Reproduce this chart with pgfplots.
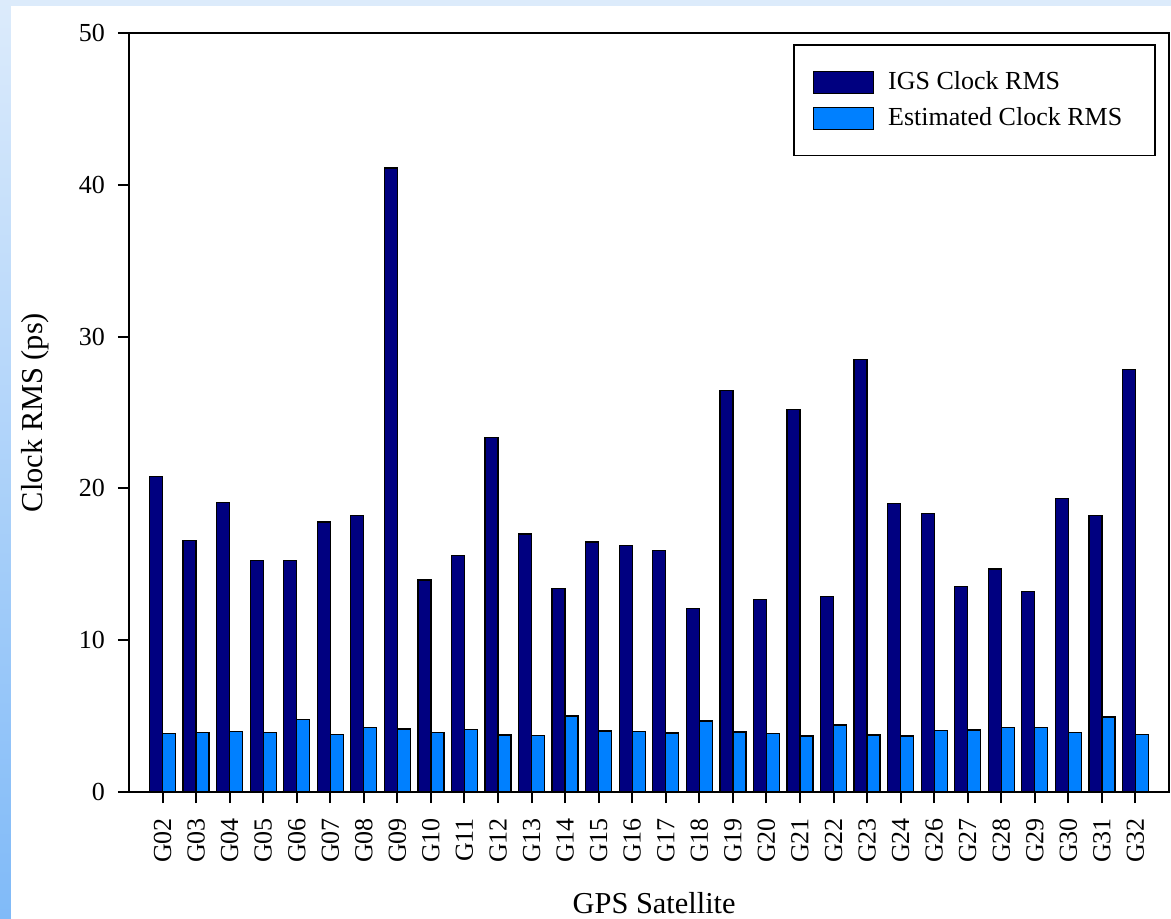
\documentclass[border=0pt]{standalone}
\usepackage{pgfplots}
\pgfplotsset{compat=1.18}
\usepackage{fontspec}
\setmainfont{Liberation Serif}
\definecolor{navybar}{HTML}{000080}
\definecolor{lightbar}{HTML}{0080FF}
\definecolor{bgtop}{HTML}{DCEBFB}
\definecolor{bgbot}{HTML}{80BAF8}
\begin{document}
\fontsize{13}{15}\selectfont
\begin{tikzpicture}
\path[use as bounding box] (-64.5pt,-63pt) rectangle (521pt,396pt);
\fill[white] (-64.5pt,-63pt) rectangle (521pt,396pt);
\fill[bgtop] (-64.5pt,393pt) rectangle (521pt,396pt);
\shade[top color=bgtop, bottom color=bgbot] (-64.5pt,-63pt) rectangle (-59pt,396pt);
\begin{axis}[
  at={(0,0)}, anchor=south west,
  scale only axis, width=520pt, height=379.5pt,
  ybar=0pt, bar width=6.5pt,
  xmin=-1, xmax=30, ymin=0, ymax=50,
  xtick={0,...,29},
  xticklabels={G02,G03,G04,G05,G06,G07,G08,G09,G10,G11,G12,G13,G14,G15,G16,G17,G18,G19,G20,G21,G22,G23,G24,G26,G27,G28,G29,G30,G31,G32},
  ytick={0,10,20,30,40,50},
  xtick pos=bottom, ytick pos=left,
  tick align=outside, major tick length=5.5pt,
  every tick/.style={black, line width=1pt},
  axis line style={black, line width=1.3pt},
  /pgf/number format/assume math mode=true,
  ticklabel style={font=\fontsize{13}{15}\selectfont},
  xticklabel style={rotate=90, anchor=east, xshift=-3pt},
  yticklabel style={xshift=-2pt},
  xlabel={GPS Satellite},
  ylabel={Clock RMS (ps)},
  label style={font=\fontsize{15.2}{17}\selectfont},
  xlabel style={at={(axis description cs:0.505,0)}, anchor=base, yshift=-60.5pt},
  ylabel style={at={(axis description cs:0,0.5)}, anchor=center, yshift=47pt},
  legend style={at={(rel axis cs:0.9875,0.9855)}, anchor=north east,
    draw=black, line width=0.8pt, inner xsep=9.5pt, inner ysep=11.25pt,
    font=\fontsize{13}{15}\selectfont, row sep=3pt, column sep=5pt,
    nodes={inner sep=2pt}},
  legend cell align=left,
  legend image code/.code={\draw[#1, line width=0.6pt] (0pt,-5.5pt) rectangle (30pt,5.5pt);},
]
\addplot[fill=navybar, draw=black, line width=0.65pt] coordinates {
(0,20.77) (1,16.58) (2,19.08) (3,15.26) (4,15.26) (5,17.79) (6,18.22) (7,41.1) (8,13.97) (9,15.57)
(10,23.37) (11,17.0) (12,13.42) (13,16.47) (14,16.23) (15,15.92) (16,12.08) (17,26.45) (18,12.69) (19,25.21)
(20,12.87) (21,28.5) (22,19.02) (23,18.36) (24,13.55) (25,14.69) (26,13.2) (27,19.32) (28,18.22) (29,27.85)};
\addplot[fill=lightbar, draw=black, line width=0.65pt] coordinates {
(0,3.86) (1,3.93) (2,4.0) (3,3.91) (4,4.77) (5,3.78) (6,4.24) (7,4.15) (8,3.91) (9,4.13)
(10,3.75) (11,3.73) (12,5.0) (13,4.02) (14,4.0) (15,3.89) (16,4.68) (17,3.95) (18,3.86) (19,3.69)
(20,4.41) (21,3.75) (22,3.69) (23,4.04) (24,4.08) (25,4.26) (26,4.26) (27,3.91) (28,4.94) (29,3.80)};
\legend{IGS Clock RMS, Estimated Clock RMS\kern5pt}
\end{axis}
\end{tikzpicture}
\end{document}
